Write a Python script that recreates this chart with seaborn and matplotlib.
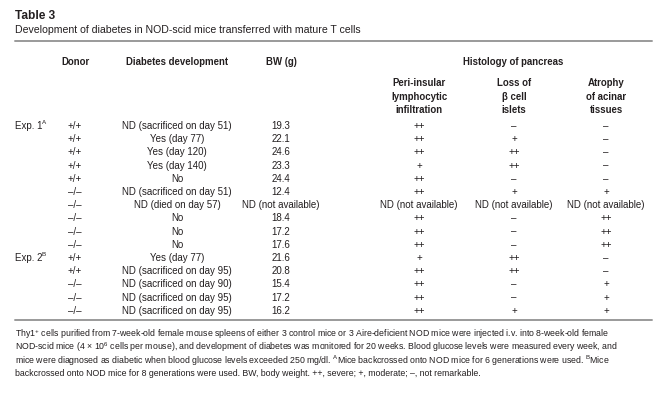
import matplotlib
matplotlib.use("Agg")
import matplotlib.pyplot as plt
import seaborn as sns

sns.set_theme(style="white")
plt.rcParams["font.family"] = ["Liberation Sans Narrow", "Liberation Sans", "DejaVu Sans"]
plt.rcParams["mathtext.fontset"] = "custom"
plt.rcParams["mathtext.rm"] = "Liberation Sans"

# ---- data ----
title = "Table 3"
subtitle = "Development of diabetes in NOD-scid mice transferred with mature T cells"
col_headers = ["Donor", "Diabetes development", "BW (g)"]
group_header = "Histology of pancreas"
histo_headers = ["Peri-insular\nlymphocytic\ninfiltration", "Loss of\nβ cell\nislets", "Atrophy\nof acinar\ntissues"]
experiments = [("Exp. 1", "A", 0), ("Exp. 2", "B", 10)]
donor = ["+/+", "+/+", "+/+", "+/+", "+/+", "–/–", "–/–", "–/–", "–/–", "–/–",
         "+/+", "+/+", "–/–", "–/–", "–/–"]
diabetes = ["ND (sacrificed on day 51)", "Yes (day 77)", "Yes (day 120)", "Yes (day 140)", "No",
            "ND (sacrificed on day 51)", "ND (died on day 57)", "No", "No", "No",
            "Yes (day 77)", "ND (sacrificed on day 95)", "ND (sacrificed on day 90)",
            "ND (sacrificed on day 95)", "ND (sacrificed on day 95)"]
bw = ["19.3", "22.1", "24.6", "23.3", "24.4", "12.4", "ND (not available)", "18.4", "17.2", "17.6",
      "21.6", "20.8", "15.4", "17.2", "16.2"]
peri = ["++", "++", "++", "+", "++", "++", "ND (not available)", "++", "++", "++",
        "+", "++", "++", "++", "++"]
loss = ["–", "+", "++", "++", "–", "+", "ND (not available)", "–", "–", "–",
        "++", "++", "–", "–", "+"]
atrophy = ["–", "–", "–", "–", "–", "+", "ND (not available)", "++", "++", "++",
           "–", "–", "+", "+", "+"]
footnote = [
    "Thy1$^{\\mathregular{+}}$ cells purified from 7-week-old female mouse spleens of either 3 control mice or 3 Aire-deficient NOD mice were injected i.v. into 8-week-old female",
    "NOD-scid mice (4 × 10$^{\\mathregular{6}}$ cells per mouse), and development of diabetes was monitored for 20 weeks. Blood glucose levels were measured every week, and",
    "mice were diagnosed as diabetic when blood glucose levels exceeded 250 mg/dl. $^{\\mathregular{A}}$Mice backcrossed onto NOD mice for 6 generations were used. $^{\\mathregular{B}}$Mice",
    "backcrossed onto NOD mice for 8 generations were used. BW, body weight. ++, severe; +, moderate; –, not remarkable.",
]

# ---- layout (pixel coordinates) ----
W, H = 667, 410
fig = plt.figure(figsize=(W / 100, H / 100), dpi=100)
ax = fig.add_axes([0, 0, 1, 1])
ax.set_xlim(0, W)
ax.set_ylim(H, 0)
ax.axis("off")

ink = "#231f20"
narrow = ["Liberation Sans Narrow", "Liberation Sans", "DejaVu Sans"]
regular = ["Liberation Sans", "DejaVu Sans"]
fs = 7.0
hfs = 6.9

ax.text(15, 16, title, fontsize=8.6, fontweight="bold", family=regular, color=ink, va="center", ha="left")
ax.text(15, 30, subtitle, fontsize=7.6, family=narrow, color=ink, va="center", ha="left")
ax.axhline(42, xmin=15 / W, xmax=652 / W, color="#9a9a9a", lw=1.4)
ax.axhline(321, xmin=15 / W, xmax=652 / W, color="#9a9a9a", lw=1.4)

col_x = [75, 177, 281]
histo_x = [419, 514, 606]
for x, h in zip(col_x, col_headers):
    ax.text(x, 62, h, fontsize=hfs, fontweight="bold", family=narrow, color=ink, ha="center", va="center")
ax.text(513, 62, group_header, fontsize=hfs, fontweight="bold", family=narrow, color=ink, ha="center", va="center")
for x, h in zip(histo_x, histo_headers):
    for k, line in enumerate(h.split("\n")):
        ax.text(x, 83 + k * 13.5, line, fontsize=hfs, fontweight="bold", family=narrow, color=ink,
                ha="center", va="center")

row_y0, row_dy = 126, 13.2
for name, sup, idx in experiments:
    y = row_y0 + idx * row_dy
    ax.text(15, y, name, fontsize=fs, family=narrow, color=ink, ha="left", va="center")
    ax.text(42, y - 3, sup, fontsize=4.5, family=narrow, color=ink, ha="left", va="center")

for i in range(len(donor)):
    y = row_y0 + i * row_dy
    cells = [donor[i], diabetes[i], bw[i]]
    for x, c in zip(col_x, cells):
        ax.text(x, y, c, fontsize=fs, family=narrow, color=ink, ha="center", va="center")
    for x, c in zip(histo_x, [peri[i], loss[i], atrophy[i]]):
        ax.text(x, y, c, fontsize=fs, family=narrow, color=ink, ha="center", va="center")

for k, line in enumerate(footnote):
    ax.text(15, 334 + k * 13.3, line, fontsize=6.35, family=regular, color=ink, ha="left", va="center")

fig.savefig("out.png", dpi=100, facecolor="white")
